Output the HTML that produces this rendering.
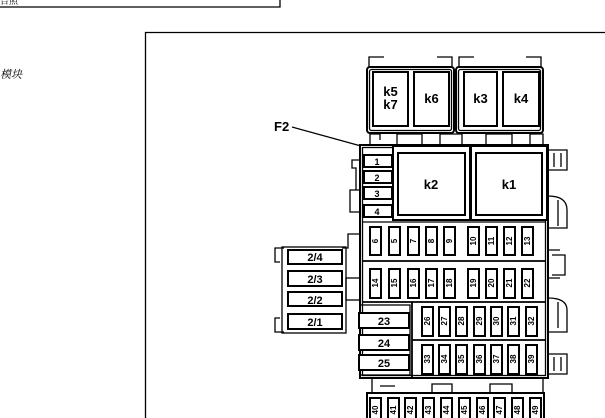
<!DOCTYPE html>
<html><head><meta charset="utf-8"><style>
html,body{margin:0;padding:0;background:#fff;}
svg{display:block}
text{font-family:"Liberation Sans",Arial,sans-serif;font-weight:bold;fill:#000}
.f{fill:#fff;stroke:#000;stroke-width:2}
.t{fill:none;stroke:#000;stroke-width:1.3}
</style></head><body>
<svg width="605" height="418" viewBox="0 0 605 418" xmlns="http://www.w3.org/2000/svg">
<path d="M0 7 H280 V0" fill="none" stroke="#000" stroke-width="1.3"/>
<text x="0" y="4" font-size="9" style="font-family:'Noto Serif CJK SC',serif;font-weight:normal">台照</text>
<text x="0" y="78" font-size="11" style="font-family:'Noto Serif CJK SC',serif;font-weight:normal;font-style:italic">模块</text>
<path d="M145.5 418 V32.5 H605" fill="none" stroke="#000" stroke-width="1.3"/>

<text x="274" y="131" font-size="13">F2</text>
<line x1="292" y1="127" x2="361" y2="146" stroke="#000" stroke-width="1.2"/>

<path d="M369 67 V57 H384 M437 57 H452 V67 M459 67 V57 H474 M526 57 H541 V67" class="t"/>
<rect x="367" y="67" width="87" height="66" rx="3" class="f"/>
<rect x="369.5" y="69.5" width="82" height="61" rx="2" class="t"/>
<rect x="373" y="72" width="35" height="54" class="f"/>
<rect x="414" y="72" width="35" height="54" class="f"/>
<text x="390.5" y="96" font-size="13" text-anchor="middle">k5</text>
<text x="390.5" y="109" font-size="13" text-anchor="middle">k7</text>
<text x="431.5" y="103" font-size="13" text-anchor="middle">k6</text>
<rect x="456" y="67" width="87" height="66" rx="3" class="f"/>
<rect x="458.5" y="69.5" width="82" height="61" rx="2" class="t"/>
<rect x="464" y="72" width="33" height="54" class="f"/>
<rect x="503" y="72" width="36" height="54" class="f"/>
<text x="480.5" y="103" font-size="13" text-anchor="middle">k3</text>
<text x="521" y="103" font-size="13" text-anchor="middle">k4</text>
<path d="M370 145 V134 H380 V140 M397 145 V134 H422 V145 M440 145 V134 H462 V145 M486 145 V134 H512 V145 M530 145 V134 H543 V145" class="t"/>

<rect x="360" y="145" width="188" height="233" class="f"/>
<rect x="362.5" y="147.5" width="183" height="228" class="t"/>
<path d="M360 160 H352 V168 H356 V190 M360 190 H350 V212 H360" class="t"/>
<rect x="364" y="155" width="28" height="12" class="f"/><text x="377" y="165" font-size="9" text-anchor="middle">1</text>
<rect x="364" y="171" width="28" height="12" class="f"/><text x="377" y="181" font-size="9" text-anchor="middle">2</text>
<rect x="364" y="187" width="28" height="12" class="f"/><text x="377" y="197" font-size="9" text-anchor="middle">3</text>
<rect x="364" y="205" width="28" height="12" class="f"/><text x="377" y="215" font-size="9" text-anchor="middle">4</text>
<rect x="393" y="146" width="77" height="74" class="f"/>
<rect x="398" y="153" width="67" height="62" class="f"/>
<text x="431" y="189" font-size="13" text-anchor="middle">k2</text>
<rect x="471" y="146" width="76" height="74" class="f"/>
<rect x="476" y="153" width="66" height="62" class="f"/>
<text x="509" y="189" font-size="13" text-anchor="middle">k1</text>
<line x1="362" y1="222" x2="546" y2="222" stroke="#000" stroke-width="1.3"/>
<line x1="362" y1="261" x2="546" y2="261" stroke="#000" stroke-width="1.8"/>
<line x1="362" y1="302" x2="546" y2="302" stroke="#000" stroke-width="1.8"/>
<line x1="412" y1="340" x2="546" y2="340" stroke="#000" stroke-width="1.8"/>
<line x1="412" y1="302" x2="412" y2="378" stroke="#000" stroke-width="1.8"/>

<g font-size="8">
<rect x="370" y="227" width="11" height="28" class="f"/><text transform="translate(378,241) rotate(-90)" text-anchor="middle">6</text>
<rect x="389" y="227" width="11" height="28" class="f"/><text transform="translate(397,241) rotate(-90)" text-anchor="middle">5</text>
<rect x="408" y="227" width="11" height="28" class="f"/><text transform="translate(416,241) rotate(-90)" text-anchor="middle">7</text>
<rect x="426" y="227" width="11" height="28" class="f"/><text transform="translate(434,241) rotate(-90)" text-anchor="middle">8</text>
<rect x="444" y="227" width="11" height="28" class="f"/><text transform="translate(452,241) rotate(-90)" text-anchor="middle">9</text>
<rect x="468" y="227" width="11" height="28" class="f"/><text transform="translate(476,241) rotate(-90)" text-anchor="middle">10</text>
<rect x="486" y="227" width="11" height="28" class="f"/><text transform="translate(494,241) rotate(-90)" text-anchor="middle">11</text>
<rect x="504" y="227" width="11" height="28" class="f"/><text transform="translate(512,241) rotate(-90)" text-anchor="middle">12</text>
<rect x="522" y="227" width="11" height="28" class="f"/><text transform="translate(530,241) rotate(-90)" text-anchor="middle">13</text>
<rect x="370" y="269" width="11" height="29" class="f"/><text transform="translate(378,283) rotate(-90)" text-anchor="middle">14</text>
<rect x="389" y="269" width="11" height="29" class="f"/><text transform="translate(397,283) rotate(-90)" text-anchor="middle">15</text>
<rect x="408" y="269" width="11" height="29" class="f"/><text transform="translate(416,283) rotate(-90)" text-anchor="middle">16</text>
<rect x="426" y="269" width="11" height="29" class="f"/><text transform="translate(434,283) rotate(-90)" text-anchor="middle">17</text>
<rect x="444" y="269" width="11" height="29" class="f"/><text transform="translate(452,283) rotate(-90)" text-anchor="middle">18</text>
<rect x="468" y="269" width="11" height="29" class="f"/><text transform="translate(476,283) rotate(-90)" text-anchor="middle">19</text>
<rect x="486" y="269" width="11" height="29" class="f"/><text transform="translate(494,283) rotate(-90)" text-anchor="middle">20</text>
<rect x="504" y="269" width="11" height="29" class="f"/><text transform="translate(512,283) rotate(-90)" text-anchor="middle">21</text>
<rect x="522" y="269" width="11" height="29" class="f"/><text transform="translate(530,283) rotate(-90)" text-anchor="middle">22</text>
<rect x="422" y="307" width="11" height="29" class="f"/><text transform="translate(430,321) rotate(-90)" text-anchor="middle">26</text>
<rect x="439" y="307" width="11" height="29" class="f"/><text transform="translate(447,321) rotate(-90)" text-anchor="middle">27</text>
<rect x="456" y="307" width="11" height="29" class="f"/><text transform="translate(464,321) rotate(-90)" text-anchor="middle">28</text>
<rect x="474" y="307" width="11" height="29" class="f"/><text transform="translate(482,321) rotate(-90)" text-anchor="middle">29</text>
<rect x="491" y="307" width="11" height="29" class="f"/><text transform="translate(499,321) rotate(-90)" text-anchor="middle">30</text>
<rect x="508" y="307" width="11" height="29" class="f"/><text transform="translate(516,321) rotate(-90)" text-anchor="middle">31</text>
<rect x="526" y="307" width="11" height="29" class="f"/><text transform="translate(534,321) rotate(-90)" text-anchor="middle">32</text>
<rect x="422" y="345" width="11" height="29" class="f"/><text transform="translate(430,359) rotate(-90)" text-anchor="middle">33</text>
<rect x="439" y="345" width="11" height="29" class="f"/><text transform="translate(447,359) rotate(-90)" text-anchor="middle">34</text>
<rect x="456" y="345" width="11" height="29" class="f"/><text transform="translate(464,359) rotate(-90)" text-anchor="middle">35</text>
<rect x="474" y="345" width="11" height="29" class="f"/><text transform="translate(482,359) rotate(-90)" text-anchor="middle">36</text>
<rect x="491" y="345" width="11" height="29" class="f"/><text transform="translate(499,359) rotate(-90)" text-anchor="middle">37</text>
<rect x="508" y="345" width="11" height="29" class="f"/><text transform="translate(516,359) rotate(-90)" text-anchor="middle">38</text>
<rect x="526" y="345" width="11" height="29" class="f"/><text transform="translate(534,359) rotate(-90)" text-anchor="middle">39</text>
</g>

<rect x="360" y="305" width="50" height="70" class="t"/>
<rect x="359" y="313" width="50" height="15" class="f"/><text x="384" y="325" font-size="11" text-anchor="middle">23</text>
<rect x="359" y="335" width="50" height="15" class="f"/><text x="384" y="347" font-size="11" text-anchor="middle">24</text>
<rect x="359" y="355" width="50" height="15" class="f"/><text x="384" y="367" font-size="11" text-anchor="middle">25</text>

<path d="M360 234 H348 V248 H342" class="t"/>
<path d="M284 248 H275 V262 H280 M284 332 H275 V318 H280" class="t"/>
<rect x="282" y="247" width="64" height="86" class="t"/>
<rect x="346" y="278" width="14" height="22" class="t"/>
<rect x="288" y="250" width="54" height="14" class="f"/><text x="315" y="261" font-size="11" text-anchor="middle">2/4</text>
<rect x="288" y="271" width="54" height="15" class="f"/><text x="315" y="283" font-size="11" text-anchor="middle">2/3</text>
<rect x="288" y="292" width="54" height="14" class="f"/><text x="315" y="304" font-size="11" text-anchor="middle">2/2</text>
<rect x="288" y="314" width="54" height="15" class="f"/><text x="315" y="326" font-size="11" text-anchor="middle">2/1</text>

<path d="M548 150 H567 V170 H548 M554 153 V167 M561 153 V167" class="t"/>
<path d="M548 196 Q567 196 567 210 V228 H548 M558 200 V226" class="t"/>
<path d="M548 250 H560 M548 278 H560 M552 255 H565 V275 H552" class="t"/>
<path d="M548 298 Q567 298 567 310 V332 H548 M558 302 V328" class="t"/>
<path d="M548 354 H567 V374 H548 M554 357 V371 M561 357 V371" class="t"/>

<path d="M372 378 V393 M543 378 V393 M380 386 H395 M432 393 V384 H452 V393 M490 393 V384 H512 V393" class="t"/>
<rect x="367" y="393" width="177" height="30" class="f"/>
<g font-size="8">
<rect x="370" y="398" width="11" height="25" class="f"/><text transform="translate(378,410) rotate(-90)" text-anchor="middle">40</text>
<rect x="388" y="398" width="11" height="25" class="f"/><text transform="translate(396,410) rotate(-90)" text-anchor="middle">41</text>
<rect x="405" y="398" width="11" height="25" class="f"/><text transform="translate(413,410) rotate(-90)" text-anchor="middle">42</text>
<rect x="423" y="398" width="11" height="25" class="f"/><text transform="translate(431,410) rotate(-90)" text-anchor="middle">43</text>
<rect x="441" y="398" width="11" height="25" class="f"/><text transform="translate(449,410) rotate(-90)" text-anchor="middle">44</text>
<rect x="459" y="398" width="11" height="25" class="f"/><text transform="translate(467,410) rotate(-90)" text-anchor="middle">45</text>
<rect x="477" y="398" width="11" height="25" class="f"/><text transform="translate(485,410) rotate(-90)" text-anchor="middle">46</text>
<rect x="494" y="398" width="11" height="25" class="f"/><text transform="translate(502,410) rotate(-90)" text-anchor="middle">47</text>
<rect x="512" y="398" width="11" height="25" class="f"/><text transform="translate(520,410) rotate(-90)" text-anchor="middle">48</text>
<rect x="530" y="398" width="11" height="25" class="f"/><text transform="translate(538,410) rotate(-90)" text-anchor="middle">49</text>
</g>
</svg>
</body></html>
